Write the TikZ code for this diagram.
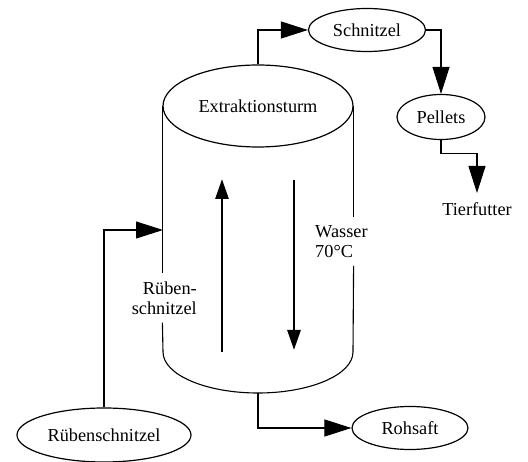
\documentclass[tikz,border=0pt]{standalone}
\usepackage{fontspec}
\setmainfont{Liberation Serif}
\usetikzlibrary{shapes.geometric, arrows.meta, positioning}
\tikzstyle{product} = [ellipse, draw=black, line width=1.2pt, inner sep=0pt, text centered]
\tikzstyle{line} = [line width=1.1pt]
\tikzstyle{flow} = [line width=1.1pt, -{Triangle[length=27pt, width=17pt]}]
\tikzstyle{stream} = [line width=2.8pt, -{Triangle[length=20pt, width=13pt]}]

\begin{document}
\begin{tikzpicture}[x=1pt, y=-1pt, font=\fontsize{18.3}{20}\selectfont]
		\useasboundingbox (0,0) rectangle (528,462);
		\node (Extraktionsturm)[product, minimum width=190pt, minimum height=82pt] at (258,106){Extraktionsturm};
		\node (Schnitzel)[product, minimum width=117pt, minimum height=43pt] at (367,30){Schnitzel};
		\node (Pellets)[product, minimum width=88pt, minimum height=45pt] at (441,117){Pellets};
		\node (Tierfutter)[anchor=north, inner sep=9pt] at (477,193){Tierfutter};
		\node (Rohsaft)[product, minimum width=116pt, minimum height=43pt] at (410,428){Rohsaft};
		\node (Ruebenschnitzel)[product, minimum width=174pt, minimum height=54pt] at (104,435){Rübenschnitzel};
		\node (Feed label)[anchor=east, align=right, inner xsep=1pt, inner ysep=8pt] at (198,298){Rüben-\\schnitzel};
		\node (Water label)[anchor=west, align=left, inner xsep=1pt, inner ysep=8pt] at (314,241.5){Wasser\\70°C};
		\coordinate (Inlet) at (163,230);
		\coordinate (Outlet) at (258,393);
		% cylinder walls and bottom
		\draw [line] (Extraktionsturm.west) -- (Feed label.north -| Extraktionsturm.west);
		\draw [line] (Extraktionsturm.east) -- (Water label.north -| Extraktionsturm.east);
		\draw [line] (Feed label.south -| Extraktionsturm.west) -- (163,352)
			arc [start angle=180, end angle=360, x radius=95pt, y radius=41pt]
			-- (Water label.south -| Extraktionsturm.east);
		% counter flow inside
		\coordinate (Beet bottom) at (222,352);
		\coordinate (Beet top) at (222,179);
		\coordinate (Water top) at (294,180);
		\coordinate (Water bottom) at (294,350);
		\draw [stream] (Beet bottom) -- (Beet top);
		\draw [stream] (Water top) -- (Water bottom);
		% connectors
		\draw [flow] (Ruebenschnitzel.north) |- (Inlet);
		\draw [flow] (Extraktionsturm.north) |- (Schnitzel.west);
		\draw [flow] (Schnitzel.east) -| (Pellets.north);
		\draw [flow] (Pellets.south) -- ++(0,13) -| (Tierfutter.north);
		\draw [flow] (Outlet) |- (Rohsaft.west);
	\end{tikzpicture}
\end{document}
